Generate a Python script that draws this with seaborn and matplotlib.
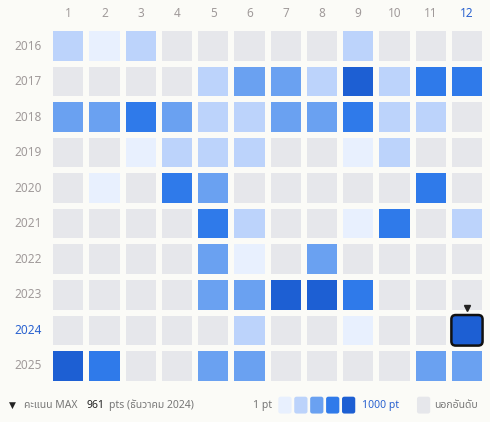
import matplotlib
matplotlib.use("Agg")
import matplotlib.pyplot as plt
from matplotlib.colors import ListedColormap
import matplotlib.patches as mpatches
import numpy as np
import pandas as pd
import seaborn as sns

years = ["2016", "2017", "2018", "2019", "2020", "2021", "2022", "2023", "2024", "2025"]
months = [str(m) for m in range(1, 13)]
# 0 = นอกอันดับ, 1..5 = ระดับคะแนน
levels = [
    [2, 1, 2, 0, 0, 0, 0, 0, 2, 0, 0, 0],
    [0, 0, 0, 0, 2, 3, 3, 2, 5, 2, 4, 4],
    [3, 3, 4, 3, 2, 2, 3, 3, 4, 2, 2, 0],
    [0, 0, 1, 2, 2, 2, 0, 0, 1, 2, 0, 0],
    [0, 1, 0, 4, 3, 0, 0, 0, 0, 0, 4, 0],
    [0, 0, 0, 0, 4, 2, 0, 0, 1, 4, 0, 2],
    [0, 0, 0, 0, 3, 1, 0, 3, 0, 0, 0, 0],
    [0, 0, 0, 0, 3, 3, 5, 5, 4, 0, 0, 0],
    [0, 0, 0, 0, 0, 2, 0, 0, 1, 0, 0, 5],
    [5, 4, 0, 0, 3, 3, 0, 0, 0, 0, 3, 3],
]
max_year, max_month = "2024", "12"

BG = "#fbfbf7"
COLORS = ["#e6e7eb", "#e8f0fe", "#bcd3fb", "#6aa1f1", "#2f7aea", "#1d5fd3"]
GREY_TXT = "#a09a9a"
BLUE_TXT = "#2a62d0"
FONTS = ["Noto Sans Thai", "Noto Sans Thai Looped", "Tlwg Typist", "Noto Sans", "DejaVu Sans"]

sns.set_theme(style="white")
plt.rcParams["font.family"] = FONTS

df = pd.DataFrame(levels, index=years, columns=months)

fig = plt.figure(figsize=(4.9, 4.22), dpi=100, facecolor=BG)
ax = fig.add_axes([0.102, 0.091, 0.888, 0.842])
ax.set_facecolor(BG)
sns.heatmap(df, ax=ax, cmap=ListedColormap(COLORS), vmin=-0.5, vmax=5.5,
            cbar=False, linewidths=4, linecolor=BG, square=False)

ax.xaxis.tick_top()
ax.tick_params(length=0, pad=6)
ax.set_xticklabels(months, rotation=0, fontsize=8.5, color=GREY_TXT)
ax.set_yticklabels(years, rotation=0, fontsize=8.5, color=GREY_TXT)
for t in ax.get_xticklabels():
    if t.get_text() == max_month:
        t.set_color(BLUE_TXT); t.set_fontweight("bold")
for t in ax.get_yticklabels():
    if t.get_text() == max_year:
        t.set_color(BLUE_TXT); t.set_fontweight("bold")
ax.set_xlabel(""); ax.set_ylabel("")

# highlight the max cell
ci, ri = months.index(max_month), years.index(max_year)
ax.add_patch(mpatches.FancyBboxPatch((ci + 0.07, ri + 0.07), 0.86, 0.86,
             boxstyle="round,pad=0,rounding_size=0.12", fill=False,
             edgecolor="#111111", linewidth=1.8, clip_on=False))
ax.plot(ci + 0.5, ri - 0.12, marker="v", color="#222222", markersize=4, clip_on=False)

# footer
y = 0.04
fig.text(0.018, y, "▼", fontsize=6.5, color="#222222", va="center", family=["DejaVu Sans"])
fig.text(0.048, y, "คะแนน MAX", fontsize=7.5, color="#777777", va="center")
fig.text(0.176, y, "961", fontsize=7.5, color="#222222", va="center", fontweight="bold")
fig.text(0.222, y, "pts (ธันวาคม 2024)", fontsize=7.5, color="#777777", va="center")
fig.text(0.517, y, "1 pt", fontsize=7.5, color="#777777", va="center")
for i, c in enumerate(COLORS[1:]):
    fig.patches.append(mpatches.FancyBboxPatch((0.568 + i * 0.0325, y - 0.02), 0.027, 0.04,
                       boxstyle="round,pad=0,rounding_size=0.005", transform=fig.transFigure,
                       facecolor=c, edgecolor="none"))
fig.text(0.738, y, "1000 pt", fontsize=7.5, color=BLUE_TXT, va="center", fontweight="bold")
fig.patches.append(mpatches.FancyBboxPatch((0.851, y - 0.02), 0.027, 0.04,
                   boxstyle="round,pad=0,rounding_size=0.005", transform=fig.transFigure,
                   facecolor=COLORS[0], edgecolor="none"))
fig.text(0.885, y, "นอกอันดับ", fontsize=7.5, color="#777777", va="center")

fig.savefig("out.png", dpi=100, facecolor=BG)
